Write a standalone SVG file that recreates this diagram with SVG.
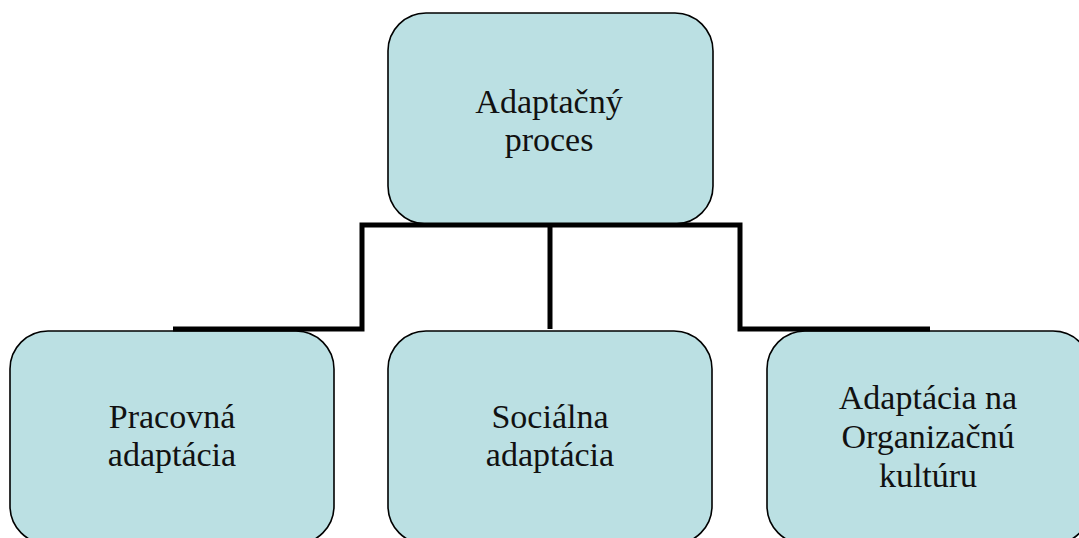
<svg xmlns="http://www.w3.org/2000/svg" width="1079" height="538" viewBox="0 0 1079 538">
  <style>
    .box { fill: #BBE0E3; stroke: #000; stroke-width: 1.6; }
    .lbl { font-family: "Liberation Serif", "Times New Roman", serif; font-size: 34px; fill: #111; text-anchor: middle; }
    .wire { fill: none; stroke: #000; stroke-width: 5; stroke-linejoin: miter; }
  </style>
  <rect width="1079" height="538" fill="#fff"/>

  <g id="root">
    <rect class="box" x="388" y="13" width="325" height="211" rx="38" ry="38"/>
    <text class="lbl"><tspan x="549" y="113">Adaptačný</tspan><tspan x="549" y="151">proces</tspan></text>
  </g>

  <g id="work">
    <rect class="box" x="10" y="331" width="324" height="213" rx="38" ry="38"/>
    <text class="lbl"><tspan x="172" y="428">Pracovná</tspan><tspan x="172" y="466">adaptácia</tspan></text>
  </g>

  <g id="social">
    <rect class="box" x="388" y="331" width="324" height="213" rx="38" ry="38"/>
    <text class="lbl"><tspan x="550" y="428">Sociálna</tspan><tspan x="550" y="466">adaptácia</tspan></text>
  </g>

  <g id="culture">
    <rect class="box" x="767" y="331" width="324" height="213" rx="38" ry="38"/>
    <text class="lbl"><tspan x="928" y="409">Adaptácia na</tspan><tspan x="928" y="448">Organizačnú</tspan><tspan x="928" y="487">kultúru</tspan></text>
  </g>

  <g id="connectors">
    <path class="wire" d="M173,329 H362 V225 H740 V329 H930"/>
    <path class="wire" d="M550,225 V329"/>
  </g>
</svg>
